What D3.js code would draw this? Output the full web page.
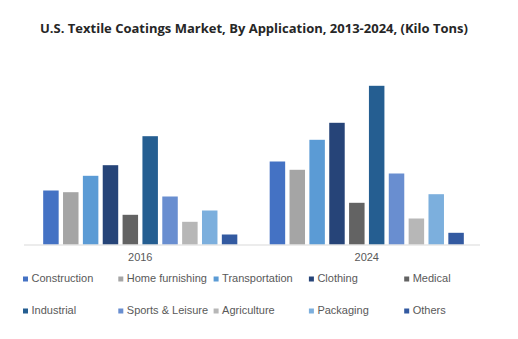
<!DOCTYPE html>
<html><head><meta charset="utf-8">
<script src="https://cdn.jsdelivr.net/npm/d3@7"></script>
<style>body{margin:0;background:#fff}</style>
</head><body>
<svg id="chart" width="518" height="339"></svg>
<script>
const years = ["2016", "2024"];
const applications = ["Construction","Home furnishing","Transportation","Clothing","Medical","Industrial","Sports & Leisure","Agriculture","Packaging","Others"];
const values2016 = [54, 52.3, 68.7, 79.3, 29.7, 108.3, 48, 22.7, 34, 10];
const values2024 = [83, 74.7, 104.7, 121.7, 41.7, 158.7, 71, 26, 50.3, 11.7];
const colors = ["#4472C4","#A5A5A5","#5B9BD5","#264478","#636363","#255E91","#698ED0","#B7B7B7","#7CAFDD","#335AA1"];
const seriesByYear = [values2016, values2024];

const svg = d3.select("#chart");
const baseY = 244.5;

svg.append("text").attr("x", 254).attr("y", 33).attr("text-anchor","middle")
  .attr("font-family","Open Sans, Noto Sans, sans-serif").attr("font-weight","bold")
  .attr("font-size","13px").attr("fill","#262626")
  .text("U.S. Textile Coatings Market, By Application, 2013-2024, (Kilo Tons)");

const x0 = d3.scaleBand().domain(years).range([27, 480]).padding(0);
const x1 = d3.scaleBand().domain(applications).range([0, x0.bandwidth()]).paddingInner(0.22).paddingOuter(0.815);
const y = d3.scaleLinear().domain([0, 160]).range([baseY, baseY - 160]);
const color = d3.scaleOrdinal().domain(applications).range(colors);

const g = svg.append("g");
years.forEach((yr, i) => {
  g.selectAll(null).data(applications.map((a, j) => ({a, v: seriesByYear[i][j]})))
    .enter().append("rect")
    .attr("x", d => x0(yr) + x1(d.a))
    .attr("y", d => y(d.v))
    .attr("width", x1.bandwidth())
    .attr("height", d => y(0) - y(d.v))
    .attr("fill", d => color(d.a));
});

const axis = svg.append("g").attr("transform", `translate(0,${baseY})`)
  .call(d3.axisBottom(x0).tickSize(0).tickPadding(9));
axis.select(".domain").remove();
axis.append("line").attr("x1", 24).attr("x2", 480).attr("y1", 0.5).attr("y2", 0.5).attr("stroke","#D9D9D9");
axis.selectAll("text").attr("font-family","Liberation Sans, Arial, sans-serif")
  .attr("font-size","11px").attr("fill","#595959");

const legend = svg.append("g");
applications.forEach((a, i) => {
  const col = i % 5, row = Math.floor(i / 5);
  const lx = 23 + col * 95.3, ly = 279 + row * 32;
  legend.append("rect").attr("x", lx).attr("y", ly - 2.5).attr("width", 5).attr("height", 5).attr("fill", color(a));
  legend.append("text").attr("x", lx + 8.5).attr("y", ly - 0.5).attr("dy","0.35em")
    .attr("font-family","Liberation Sans, Arial, sans-serif").attr("font-size","11px")
    .attr("fill","#595959").text(a);
});
</script>
</body></html>
